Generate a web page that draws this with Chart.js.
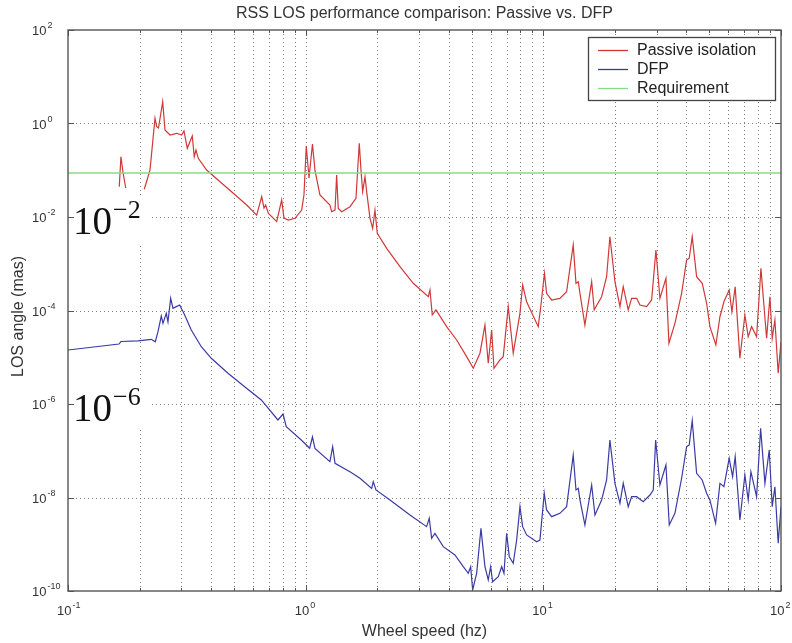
<!DOCTYPE html>
<html>
<head>
<meta charset="utf-8">
<script src="https://cdn.jsdelivr.net/npm/chart.js@4.4.1/dist/chart.umd.min.js"></script>
<style>
  html, body { margin: 0; padding: 0; background: #fff; }
  #wrap { width: 792px; height: 643px; }
</style>
</head>
<body>
<div id="wrap"><canvas id="c" width="792" height="643"></canvas></div>
<script>
// Wheel speed (Hz) and LOS angle (mas) for passive isolation; null marks the break in the trace
const passiveHz = [0.1643, 0.167, 0.1703, 0.1749, 0.19, 0.2094, 0.2213, 0.2323, 0.2362, 0.2403,
  0.2503, 0.2559, 0.2686, 0.2867, 0.3008, 0.3076, 0.3176, 0.3333, 0.3398, 0.3455,
  0.3533, 0.3832, 0.4361, 0.4960, 0.5646, 0.6221, 0.6531, 0.6678, 0.6788, 0.6962,
  0.7551, 0.7925, 0.8104, 0.8450, 0.9016, 0.9621, 0.9837, 1.006, 1.033, 1.068,
  1.094, 1.148, 1.265, 1.286, 1.329, 1.350, 1.371, 1.418, 1.536, 1.628,
  1.681, 1.709, 1.737, 1.777, 1.806, 1.865, 1.914, 1.957, 2.001, 2.192,
  2.493, 2.836, 3.280, 3.334, 3.409, 3.534, 3.919, 4.318, 4.757, 5.072,
  5.412, 5.680, 5.865, 6.061, 6.198, 6.568, 6.782, 7.118, 7.472, 7.973,
  8.184, 8.506, 9.519, 9.770, 10.11, 10.32, 10.84, 11.74, 12.53, 13.36,
  13.72, 14.03, 14.26, 14.96, 15.97, 16.37, 17.59, 18.46, 19.06, 20.01,
  21.01, 21.69, 22.76, 23.52, 24.69, 25.50, 27.21, 28.55, 29.77, 30.94,
  32.80, 33.77, 35.78, 38.18, 40.07, 41.10, 42.31, 44.15, 46.61, 48.64,
  50.22, 53.21, 55.34, 57.53, 60.54, 62.14, 64.16, 67.15, 70.48, 72.78,
  75.21, 78.94, 82.33, 86.99, 89.82, 91.84, 94.26, 97.32, 100];
const passiveLos = [0.0445, 0.195, 0.0918, 0.0417, null, 0.0392, 0.101, 1.291, 0.855, 0.80,
  2.92, 0.726, 0.568, 0.617, 0.568, 0.692, 0.295, 0.541, 0.195, 0.271,
  0.180, 0.101, 0.0569, 0.0321, 0.0181, 0.0110, 0.0272, 0.0156, 0.0181, 0.0120,
  0.00794, 0.0231, 0.00952, 0.00863, 0.00938, 0.0141, 0.0296, 0.330, 0.0683, 0.365,
  0.101, 0.0296, 0.0181, 0.0130, 0.0141, 0.0791, 0.0153, 0.0130, 0.0166, 0.0251,
  0.377, 0.101, 0.0348, 0.0728, 0.0348, 0.00938, 0.00573, 0.0141, 0.00448, 0.00214,
  8.65e-4, 3.82e-4, 1.97e-4, 2.75e-4, 8.02e-5, 1.03e-4, 4.51e-5, 2.34e-5, 1.03e-5, 5.81e-6,
  1.22e-5, 4.90e-5, 7.43e-6, 3.83e-5, 5.81e-6, 8.73e-6, 1.03e-5, 1.21e-4, 1.22e-5, 8.71e-5,
  3.52e-4, 1.54e-4, 4.51e-5, 1.31e-4, 6.25e-4, 2.33e-4, 1.68e-4, 1.82e-4, 2.52e-4, 2.52e-3,
  3.82e-4, 4.13e-4, 2.33e-4, 4.90e-5, 4.13e-4, 1.03e-4, 1.97e-4, 5.28e-4, 3.79e-3, 4.13e-4,
  1.21e-4, 3.23e-4, 1.03e-4, 1.82e-4, 1.82e-4, 1.31e-4, 1.21e-4, 1.68e-4, 1.97e-3, 1.82e-4,
  4.89e-4, 1.99e-5, 5.32e-5, 2.33e-4, 1.20e-3, 1.31e-3, 3.79e-3, 5.28e-4, 3.82e-4, 1.43e-4,
  4.51e-5, 1.83e-5, 7.36e-5, 1.54e-4, 2.75e-4, 9.42e-5, 3.23e-4, 9.51e-6, 8.02e-5, 2.75e-5,
  4.51e-5, 2.75e-5, 8.00e-4, 2.54e-5, 1.97e-4, 2.54e-5, 6.27e-5, 4.54e-6, 2.15e-5];

// Wheel speed (Hz) and LOS angle (mas) with DFP
const dfpHz = [0.1, 0.1639, 0.167, 0.197, 0.2241, 0.2330, 0.2391, 0.2469, 0.2510, 0.2591,
  0.2634, 0.2704, 0.2765, 0.2855, 0.2951, 0.3097, 0.3301, 0.3638, 0.4009, 0.4711,
  0.5537, 0.6505, 0.7645, 0.8027, 0.8288, 0.9584, 1.039, 1.068, 1.094, 1.265,
  1.299, 1.329, 1.536, 1.692, 1.896, 1.925, 1.976, 2.263, 2.747, 3.228,
  3.311, 3.389, 3.499, 3.793, 4.247, 4.603, 4.832, 4.946, 5.042, 5.241,
  5.465, 5.680, 5.865, 6.002, 6.119, 6.463, 6.679, 6.830, 7.010, 7.190,
  7.472, 7.722, 7.973, 8.184, 8.506, 9.371, 9.676, 10.09, 10.32, 10.84,
  11.74, 12.53, 13.36, 13.72, 14.03, 14.26, 14.96, 15.97, 16.49, 17.59,
  18.46, 19.06, 20.01, 21.01, 21.69, 22.76, 23.52, 24.69, 26.32, 28.09,
  29.01, 29.69, 30.94, 32.80, 33.87, 35.78, 38.18, 40.07, 41.10, 42.31,
  44.15, 46.61, 48.64, 50.22, 53.07, 55.34, 57.53, 60.54, 62.57, 64.16,
  67.15, 70.48, 72.78, 74.70, 78.94, 82.08, 85.57, 89.22, 91.84, 94.26,
  97.32, 100];
const dfpLos = [1.43e-5, 1.92e-5, 2.17e-5, 2.23e-5, 2.42e-5, 2.15e-5, 3.52e-5, 7.62e-5, 5.32e-5, 8.71e-5,
  5.76e-5, 1.82e-4, 1.11e-4, 1.21e-4, 1.31e-4, 8.02e-5, 3.83e-5, 1.68e-5, 9.51e-6, 4.54e-6,
  2.34e-6, 1.22e-6, 4.55e-7, 6.11e-7, 3.27e-7, 1.70e-7, 1.13e-7, 1.97e-7, 1.12e-7, 5.83e-8,
  1.22e-7, 5.40e-8, 3.56e-8, 2.58e-8, 1.57e-8, 2.18e-8, 1.45e-8, 8.85e-9, 4.23e-9, 2.38e-9,
  3.59e-9, 1.34e-9, 1.71e-9, 8.87e-10, 5.89e-10, 3.31e-10, 2.39e-10, 3.31e-10, 1.05e-10, 2.39e-10,
  2.19e-9, 3.31e-10, 1.72e-10, 3.31e-10, 1.58e-10, 2.02e-10, 3.31e-10, 2.39e-10, 1.71e-9, 5.42e-10,
  3.92e-10, 1.23e-9, 6.36e-9, 2.38e-9, 1.58e-9, 1.13e-9, 1.23e-9, 1.23e-8, 5.41e-9, 3.89e-9,
  4.59e-9, 6.36e-9, 8.11e-8, 1.45e-8, 1.57e-8, 8.85e-9, 2.58e-9, 1.85e-8, 4.23e-9, 8.85e-9,
  2.37e-8, 1.70e-7, 2.01e-8, 7.52e-9, 2.01e-8, 6.36e-9, 1.04e-8, 1.04e-8, 8.13e-9, 1.13e-8,
  1.45e-8, 1.70e-7, 1.85e-8, 4.95e-8, 2.58e-9, 4.59e-9, 2.58e-8, 1.22e-7, 1.33e-7, 4.40e-7,
  3.30e-8, 2.37e-8, 1.23e-8, 8.85e-9, 2.81e-9, 2.01e-8, 1.70e-8, 6.90e-8, 2.79e-8, 7.46e-8,
  3.30e-9, 3.03e-8, 8.85e-9, 3.56e-8, 1.04e-8, 3.02e-7, 2.01e-8, 1.04e-7, 6.36e-9, 1.70e-8,
  1.05e-9, 6.36e-9];

// Requirement level (mas) across the whole speed range
const requirementHz = [0.1, 100];
const requirementLos = [0.087, 0.087];

// Axis ticks
const xMajor = [0.1, 1, 10, 100];
const xMajorExp = ['-1', '0', '1', '2'];
const xMinor = [0.2, 0.3, 0.4, 0.5, 0.6, 0.7, 0.8, 0.9, 2, 3, 4, 5, 6, 7, 8, 9, 20, 30, 40, 50, 60, 70, 80, 90];
const yMajor = [1e2, 1, 1e-2, 1e-4, 1e-6, 1e-8, 1e-10];
const yMajorExp = ['2', '0', '-2', '-4', '-6', '-8', '-10'];

const seriesNames = ['Passive isolation', 'DFP', 'Requirement'];
const seriesColors = ['#d03838', '#3a3aa6', '#86dd86'];

// Large annotation labels placed over the plot: value and exponent
const callouts = [{ value: 1e-2, exp: '\u22122' }, { value: 1e-6, exp: '\u22126' }];

const toPoints = (xs, ys) => xs.map((x, i) => ({ x: x, y: ys[i] }));

const SANS = '"Liberation Sans", Arial, Helvetica, sans-serif';
const SERIF = '"Liberation Serif", "Times New Roman", serif';

function hline(ctx, x1, x2, y) { ctx.beginPath(); ctx.moveTo(x1, y); ctx.lineTo(x2, y); ctx.stroke(); }
function vline(ctx, x, y1, y2) { ctx.beginPath(); ctx.moveTo(x, y1); ctx.lineTo(x, y2); ctx.stroke(); }

function powerLabel(ctx, left, baseline, exp, size, supSize, rise, font, color) {
  ctx.fillStyle = color;
  ctx.textAlign = 'left';
  ctx.textBaseline = 'alphabetic';
  ctx.font = size + 'px ' + font;
  ctx.fillText('10', left, baseline);
  const w = ctx.measureText('10').width;
  ctx.font = supSize + 'px ' + font;
  ctx.fillText(exp, left + w + 1, baseline - rise);
}

const axesDecor = {
  id: 'axesDecor',
  beforeDatasetsDraw(chart) {
    const { ctx, chartArea: a, scales: { x, y } } = chart;
    ctx.save();
    // dotted grid
    ctx.strokeStyle = 'rgba(105,105,105,0.85)';
    ctx.lineWidth = 1;
    ctx.setLineDash([1, 3]);
    xMajor.concat(xMinor).forEach(v => {
      const px = Math.round(x.getPixelForValue(v)) + 0.5;
      if (px > a.left + 1 && px < a.right - 1) vline(ctx, px, a.top, a.bottom);
    });
    yMajor.forEach(v => {
      const py = Math.round(y.getPixelForValue(v)) + 0.5;
      if (py > a.top + 1 && py < a.bottom - 1) hline(ctx, a.left, a.right, py);
    });
    ctx.setLineDash([]);
    // white patches behind the large callouts
    ctx.fillStyle = '#fff';
    callouts.forEach(c => {
      const py = y.getPixelForValue(c.value);
      ctx.fillRect(a.left + 1, py - 21, 81, 47);
    });
    ctx.restore();
  },
  afterDatasetsDraw(chart) {
    const { ctx, chartArea: a, scales: { x, y } } = chart;
    ctx.save();
    // axes box
    ctx.strokeStyle = '#555';
    ctx.lineWidth = 1.4;
    ctx.strokeRect(a.left, a.top, a.right - a.left, a.bottom - a.top);
    // inward tick marks
    ctx.lineWidth = 1;
    yMajor.forEach(v => {
      const py = Math.round(y.getPixelForValue(v)) + 0.5;
      hline(ctx, a.left, a.left + 6, py);
      hline(ctx, a.right - 6, a.right, py);
    });
    xMajor.forEach(v => {
      const px = Math.round(x.getPixelForValue(v)) + 0.5;
      vline(ctx, px, a.bottom, a.bottom - 6);
      vline(ctx, px, a.top, a.top + 6);
    });
    xMinor.forEach(v => {
      const px = Math.round(x.getPixelForValue(v)) + 0.5;
      vline(ctx, px, a.bottom, a.bottom - 3);
      vline(ctx, px, a.top, a.top + 3);
    });
    // tick labels
    yMajor.forEach((v, i) => {
      const py = y.getPixelForValue(v);
      powerLabel(ctx, 32, py + 5, yMajorExp[i], 13, 9, 7, SANS, '#333');
    });
    xMajor.forEach((v, i) => {
      const px = x.getPixelForValue(v);
      powerLabel(ctx, px - 11, a.bottom + 24, xMajorExp[i], 13, 9, 7, SANS, '#333');
    });
    // title and axis titles
    ctx.fillStyle = '#333';
    ctx.textAlign = 'center';
    ctx.textBaseline = 'alphabetic';
    ctx.font = '16px ' + SANS;
    ctx.fillText('RSS LOS performance comparison: Passive vs. DFP', (a.left + a.right) / 2, 18);
    ctx.fillText('Wheel speed (hz)', (a.left + a.right) / 2, 636);
    ctx.save();
    ctx.translate(23, (a.top + a.bottom) / 2 + 6);
    ctx.rotate(-Math.PI / 2);
    ctx.fillText('LOS angle (mas)', 0, 0);
    ctx.restore();
    // large callouts
    callouts.forEach(c => {
      const py = y.getPixelForValue(c.value);
      powerLabel(ctx, a.left + 5, py + 17, c.exp, 39, 26, 16, SERIF, '#111');
    });
    // legend
    const lx = 588, ly = 37, lw = 187, lh = 63;
    ctx.fillStyle = '#fff';
    ctx.fillRect(lx, ly, lw, lh);
    ctx.strokeStyle = '#444';
    ctx.lineWidth = 1.3;
    ctx.strokeRect(lx + 0.5, ly + 0.5, lw, lh);
    ctx.font = '16px ' + SANS;
    ctx.textAlign = 'left';
    ctx.textBaseline = 'middle';
    seriesNames.forEach((name, i) => {
      const ry = ly + 13 + i * 19;
      ctx.strokeStyle = seriesColors[i];
      ctx.lineWidth = 1.3;
      hline(ctx, lx + 10, lx + 40, ry + 0.5);
      ctx.fillStyle = '#222';
      ctx.fillText(name, lx + 49, ry + 1);
    });
    ctx.restore();
  }
};

new Chart(document.getElementById('c'), {
  type: 'line',
  data: {
    datasets: [
      { label: seriesNames[2], data: toPoints(requirementHz, requirementLos), borderColor: seriesColors[2], borderWidth: 1.5 },
      { label: seriesNames[0], data: toPoints(passiveHz, passiveLos), borderColor: seriesColors[0], borderWidth: 1.2 },
      { label: seriesNames[1], data: toPoints(dfpHz, dfpLos), borderColor: seriesColors[1], borderWidth: 1.2 }
    ]
  },
  options: {
    responsive: false,
    animation: false,
    devicePixelRatio: 1,
    spanGaps: false,
    layout: { padding: { left: 68, right: 11, top: 30, bottom: 52 } },
    elements: { point: { radius: 0 }, line: { tension: 0, fill: false } },
    plugins: { legend: { display: false }, title: { display: false }, tooltip: { enabled: false } },
    scales: {
      x: { type: 'logarithmic', min: 0.1, max: 100, display: false },
      y: { type: 'logarithmic', min: 1e-10, max: 100, display: false }
    }
  },
  plugins: [axesDecor]
});
</script>
</body>
</html>
